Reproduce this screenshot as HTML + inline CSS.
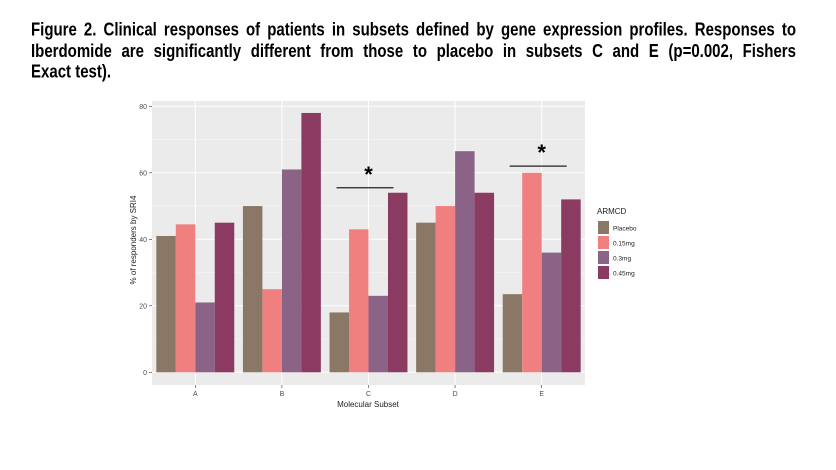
<!DOCTYPE html>
<html><head><meta charset="utf-8"><style>
body{margin:0;background:#fff;width:836px;height:470px;overflow:hidden;font-family:"Liberation Sans",Arial,sans-serif}
#title{position:absolute;left:31px;top:20px;width:765px;font-weight:bold;font-size:15px;line-height:17.5px;color:#000;transform:scaleY(1.2);transform-origin:0 0}
#title div{text-align:justify;text-align-last:justify;white-space:nowrap}
#title div.last{text-align-last:left}
</style></head><body>
<div id="title"><div>Figure 2. Clinical responses of patients in subsets defined by gene expression profiles. Responses to</div><div>Iberdomide are significantly different from those to placebo in subsets C and E (p=0.002, Fishers</div><div class="last">Exact test).</div></div>
<svg id="chart" width="836" height="470" style="position:absolute;left:0;top:0"></svg>
<script>
const categories=["A","B","C","D","E"];
const seriesNames=["Placebo","0.15mg","0.3mg","0.45mg"];
const placebo=[41,50,18,45,23.5];
const dose015=[44.5,25,43,50,60];
const dose03=[21,61,23,66.5,36];
const dose045=[45,78,54,54,52];
const yTicks=[0,20,40,60,80];
const colors=["#8b7765","#f08080","#8b6387","#8b3a62"];
const series=[placebo,dose015,dose03,dose045];
const NS="http://www.w3.org/2000/svg";
const svg=document.getElementById("chart");
const L=152,R=585,T=101,B=385;
const y=v=>372.3-v*(372.3-106.3)/80;
const step=(R-L)/categories.length;
const xc=i=>L+step*(i+0.5);
const bw=step*0.9/4;
function mk(t,a){const e=document.createElementNS(NS,t);for(const k in a)e.setAttribute(k,a[k]);svg.appendChild(e);return e;}
let p=mk("rect",{x:L,y:T,width:R-L,height:B-T,fill:"#ebebeb"});


for(let v=10;v<=80;v+=20){let g=mk("line",{x1:L,x2:R,y1:y(v),y2:y(v),stroke:"#f7f7f7","stroke-width":0.5});

}
yTicks.forEach(v=>{let g=mk("line",{x1:L,x2:R,y1:y(v),y2:y(v),stroke:"#fff","stroke-width":1});


let t=mk("line",{x1:L-3,x2:L,y1:y(v),y2:y(v),stroke:"#333","stroke-width":0.6});


let l=mk("text",{x:L-5,y:y(v)+2.5,"font-size":7,fill:"#4d4d4d","text-anchor":"end"});l.textContent=v;

});
categories.forEach((c,i)=>{let g=mk("line",{x1:xc(i),x2:xc(i),y1:T,y2:B,stroke:"#fff","stroke-width":1});


let t=mk("line",{x1:xc(i),x2:xc(i),y1:B,y2:B+3,stroke:"#333","stroke-width":0.6});


let l=mk("text",{x:xc(i),y:B+11,"font-size":7,fill:"#4d4d4d","text-anchor":"middle"});l.textContent=c;

});
series.forEach((s,j)=>s.forEach((v,i)=>{const x0=xc(i)-2*bw+j*bw;
let r=mk("rect",{x:x0,y:y(v),width:bw,height:y(0)-y(v),fill:colors[j]});

}));
[[2,55.5],[4,62]].forEach(([i,v])=>{let ln=mk("line",{x1:xc(i)-32,x2:xc(i)+25,y1:y(v),y2:y(v),stroke:"#222","stroke-width":1.2});


let st=mk("text",{x:xc(i),y:y(v)-6,"font-size":22,"font-weight":"bold","text-anchor":"middle"});st.textContent="*";

});
let yt=mk("text",{x:0,y:0,"font-size":8,fill:"#222","text-anchor":"middle",transform:"translate(136,240) rotate(-90)"});yt.textContent="% of responders by SRI4";


let xt=mk("text",{x:368,y:407,"font-size":8,fill:"#222","text-anchor":"middle"});xt.textContent="Molecular Subset";


let lt=mk("text",{x:597,y:214,"font-size":8,fill:"#222"});lt.textContent="ARMCD";


seriesNames.forEach((n,j)=>{let k=mk("rect",{x:598,y:221+j*15,width:11,height:13,fill:colors[j]});


let l=mk("text",{x:613,y:230.5+j*15,"font-size":6.5,fill:"#222"});l.textContent=n;

});
</script>
</body></html>
